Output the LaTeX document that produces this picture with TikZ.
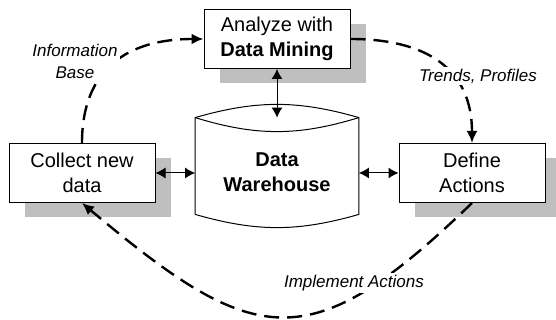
\documentclass[tikz,border=0pt]{standalone}
\usepackage{fontspec}
\setmainfont{Liberation Sans}
\usepackage{xcolor}
\usetikzlibrary{positioning,shadows,arrows.meta}
\definecolor{shade}{gray}{0.75}

\tikzset{
  box/.style={draw, fill=white, line width=0.5pt, minimum width=73pt,
    minimum height=29.5pt, align=center, inner sep=1pt,
    font=\fontsize{10}{12.5}\selectfont,
    drop shadow={shadow xshift=8pt, shadow yshift=-7.5pt, fill=shade, opacity=1}},
  tank/.style={minimum width=81.5pt, minimum height=48pt, inner sep=0pt},
  link/.style={line width=0.5pt,
    {Latex[length=5pt,width=5.5pt]}-{Latex[length=5pt,width=5.5pt]}},
  flow/.style={line width=1.2pt, dash pattern=on 7.5pt off 4pt,
    -{Latex[length=6pt,width=5.5pt]}},
  tag/.style={fill=white, inner sep=1pt, align=center,
    font=\fontsize{8.5}{11}\selectfont\itshape}
}

\begin{document}
\begin{tikzpicture}
    \useasboundingbox (0,0) rectangle (278pt,160pt);

    % the three steps
    \node[box] (mine) at (138.5pt,140.5pt) {Analyze with\\\textbf{Data Mining}};
    \node[box] (collect) at (41pt,73.5pt) {Collect new\\data};
    \node[box] (define) at (236pt,73.5pt) {Define\\Actions};

    % warehouse drum
    \node[tank] (dw) at (138.5pt,77pt) {};
    \draw[line width=0.5pt] (dw.south west) -- (dw.north west)
      to[bend left=16] (dw.north east) -- (dw.south east)
      to[bend left=16] (dw.south west);
    \draw[line width=0.5pt] (dw.north west) to[bend right=17] (dw.north east);
    \node[align=center, font=\fontsize{10}{12.5}\selectfont\bfseries]
      (dwname) at ([yshift=-3.25pt]dw.center) {Data\\Warehouse};

    % data exchange
    \draw[link] (mine.south) -- (dw.north);
    \draw[link] (collect.east) -- (collect.east -| dw.west);
    \draw[link] (define.west) -- (define.west -| dw.east);

    % the loop
    \draw[flow] (collect.north) to[out=90,in=180,looseness=1.2] (mine.west);
    \draw[flow] (mine.east) to[out=0,in=90,looseness=1.2] (define.north);
    \draw[flow] (define.south) to[out=-136,in=-40,looseness=1.49] (collect.south);

    % loop labels
    \node[tag] (base) at (37.5pt,129.5pt) {Information\\Base};
    \node[tag] (trends) at (239pt,122pt) {Trends, Profiles};
    \node[tag] (impl) at (177pt,18.5pt) {Implement Actions};
\end{tikzpicture}
\end{document}
